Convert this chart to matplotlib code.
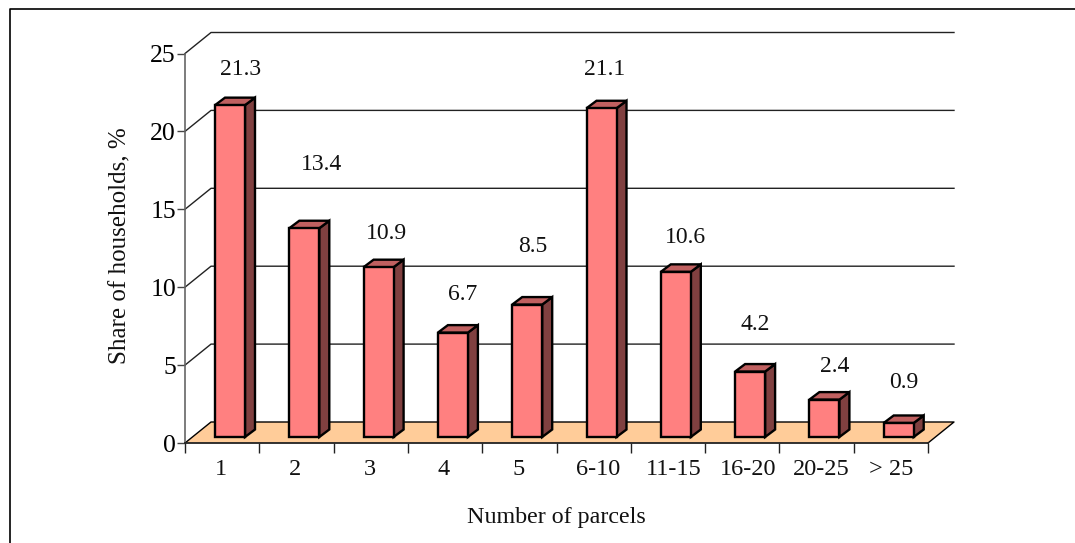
import matplotlib
matplotlib.use('Agg')
import matplotlib.pyplot as plt
from matplotlib.lines import Line2D
from matplotlib.patches import Polygon, Rectangle

categorias = ['1', '2', '3', '4', '5', '6-10', '11-15', '16-20', '20-25', '> 25']
valores = [21.3, 13.4, 10.9, 6.7, 8.5, 21.1, 10.6, 4.2, 2.4, 0.9]
alturas_texto = [36, 64, 34, 38, 58, 39, 34, 47, 33, 40]  # px above the bar front
desvio_texto = [11, 17, 8, 10, 6, 3, 10, 5, 10, 5]  # px right of the bar centre
desvio_cat = [0, -1, 0, -1, 0, 5, 7, 7, 5, 1]  # px nudge of the category labels
ticks_y = [0, 5, 10, 15, 20, 25]

plt.rcParams['font.family'] = ['Liberation Serif', 'DejaVu Serif']

fig = plt.figure(figsize=(10.75, 5.43), dpi=100)
ax = fig.add_axes([185 / 1075, 100 / 543, 743 / 1075, 389.5 / 543])
ax.set_xlim(0, len(categorias))
ax.set_ylim(0, 25)

# pixel sizes turned into data units
px_x = len(categorias) / 743
px_y = 25 / 389.5
fondo_x = 26 * px_x
fondo_y = 21 * px_y
prof_x = 10 * px_x
prof_y = 7.5 * px_y
ancho = 30 * px_x
izq = 30 * px_x
base = 6 * px_y
n = len(categorias)

# floor
ax.add_patch(Polygon([(0, 0), (n, 0), (n + fondo_x, fondo_y), (fondo_x, fondo_y)],
                     closed=True, facecolor='#FFCC99', edgecolor='none', zorder=1, clip_on=False))
ax.plot([0, fondo_x, n + fondo_x, n], [0, fondo_y, fondo_y, 0], color='black', lw=1,
        zorder=2, clip_on=False)

# back wall lines
for t in ticks_y[1:]:
    ax.plot([0, fondo_x, n + fondo_x], [t, t + fondo_y, t + fondo_y], color='#222222', lw=1,
            zorder=2, clip_on=False)

# bars
for i, v in enumerate(valores):
    x0 = i + izq
    x1 = x0 + ancho
    y0 = base
    y1 = base + v
    ax.add_patch(Polygon([(x1, y0), (x1 + prof_x, y0 + prof_y), (x1 + prof_x, y1 + prof_y), (x1, y1)],
                         closed=True, facecolor='#804040', edgecolor='black', lw=1.7, zorder=3, clip_on=False))
    ax.add_patch(Polygon([(x0, y1), (x1, y1), (x1 + prof_x, y1 + prof_y), (x0 + prof_x, y1 + prof_y)],
                         closed=True, facecolor='#C06060', edgecolor='black', lw=1.7, zorder=3, clip_on=False))
    ax.add_patch(Rectangle((x0, y0), ancho, v, facecolor='#FF8080', edgecolor='black', lw=1.7,
                           zorder=4, clip_on=False))
    ax.text(x0 + ancho / 2 + desvio_texto[i] * px_x, y1 + alturas_texto[i] * px_y, '%.1f' % v,
            fontsize=17, color='#111111', ha='center', va='center', zorder=5)

ax.spines['top'].set_visible(False)
ax.spines['right'].set_visible(False)
ax.spines['left'].set_color('#666666')
ax.spines['left'].set_linewidth(1.2)
ax.spines['bottom'].set_color('#222222')
ax.spines['bottom'].set_linewidth(1.3)

ax.set_yticks(ticks_y)
ax.tick_params(axis='y', labelsize=18.5, length=6, width=1, pad=0.5, color='#444444')
ax.set_xticks(range(n + 1))
ax.set_xticklabels([])
ax.tick_params(axis='x', length=7, width=1, color='#222222')
for i, c in enumerate(categorias):
    ax.text(i + 0.49 + desvio_cat[i] * px_x, -32 * px_y, c, fontsize=17.5, color='#111111',
            ha='center', va='baseline')

ax.set_xlabel('Number of parcels', fontsize=17.3, color='#111111')
ax.xaxis.set_label_coords(0.5, -0.165)
ax.set_ylabel('Share of households, %', fontsize=18, color='#111111')
ax.yaxis.set_label_coords(-0.072, 0.508)

# chart frame, only left and top are inside the image
fig.add_artist(Line2D([10 / 1075, 10 / 1075, 1], [0, 534 / 543, 534 / 543], transform=fig.transFigure,
                      color='black', lw=1.2))

fig.savefig('out.png', dpi=100)
